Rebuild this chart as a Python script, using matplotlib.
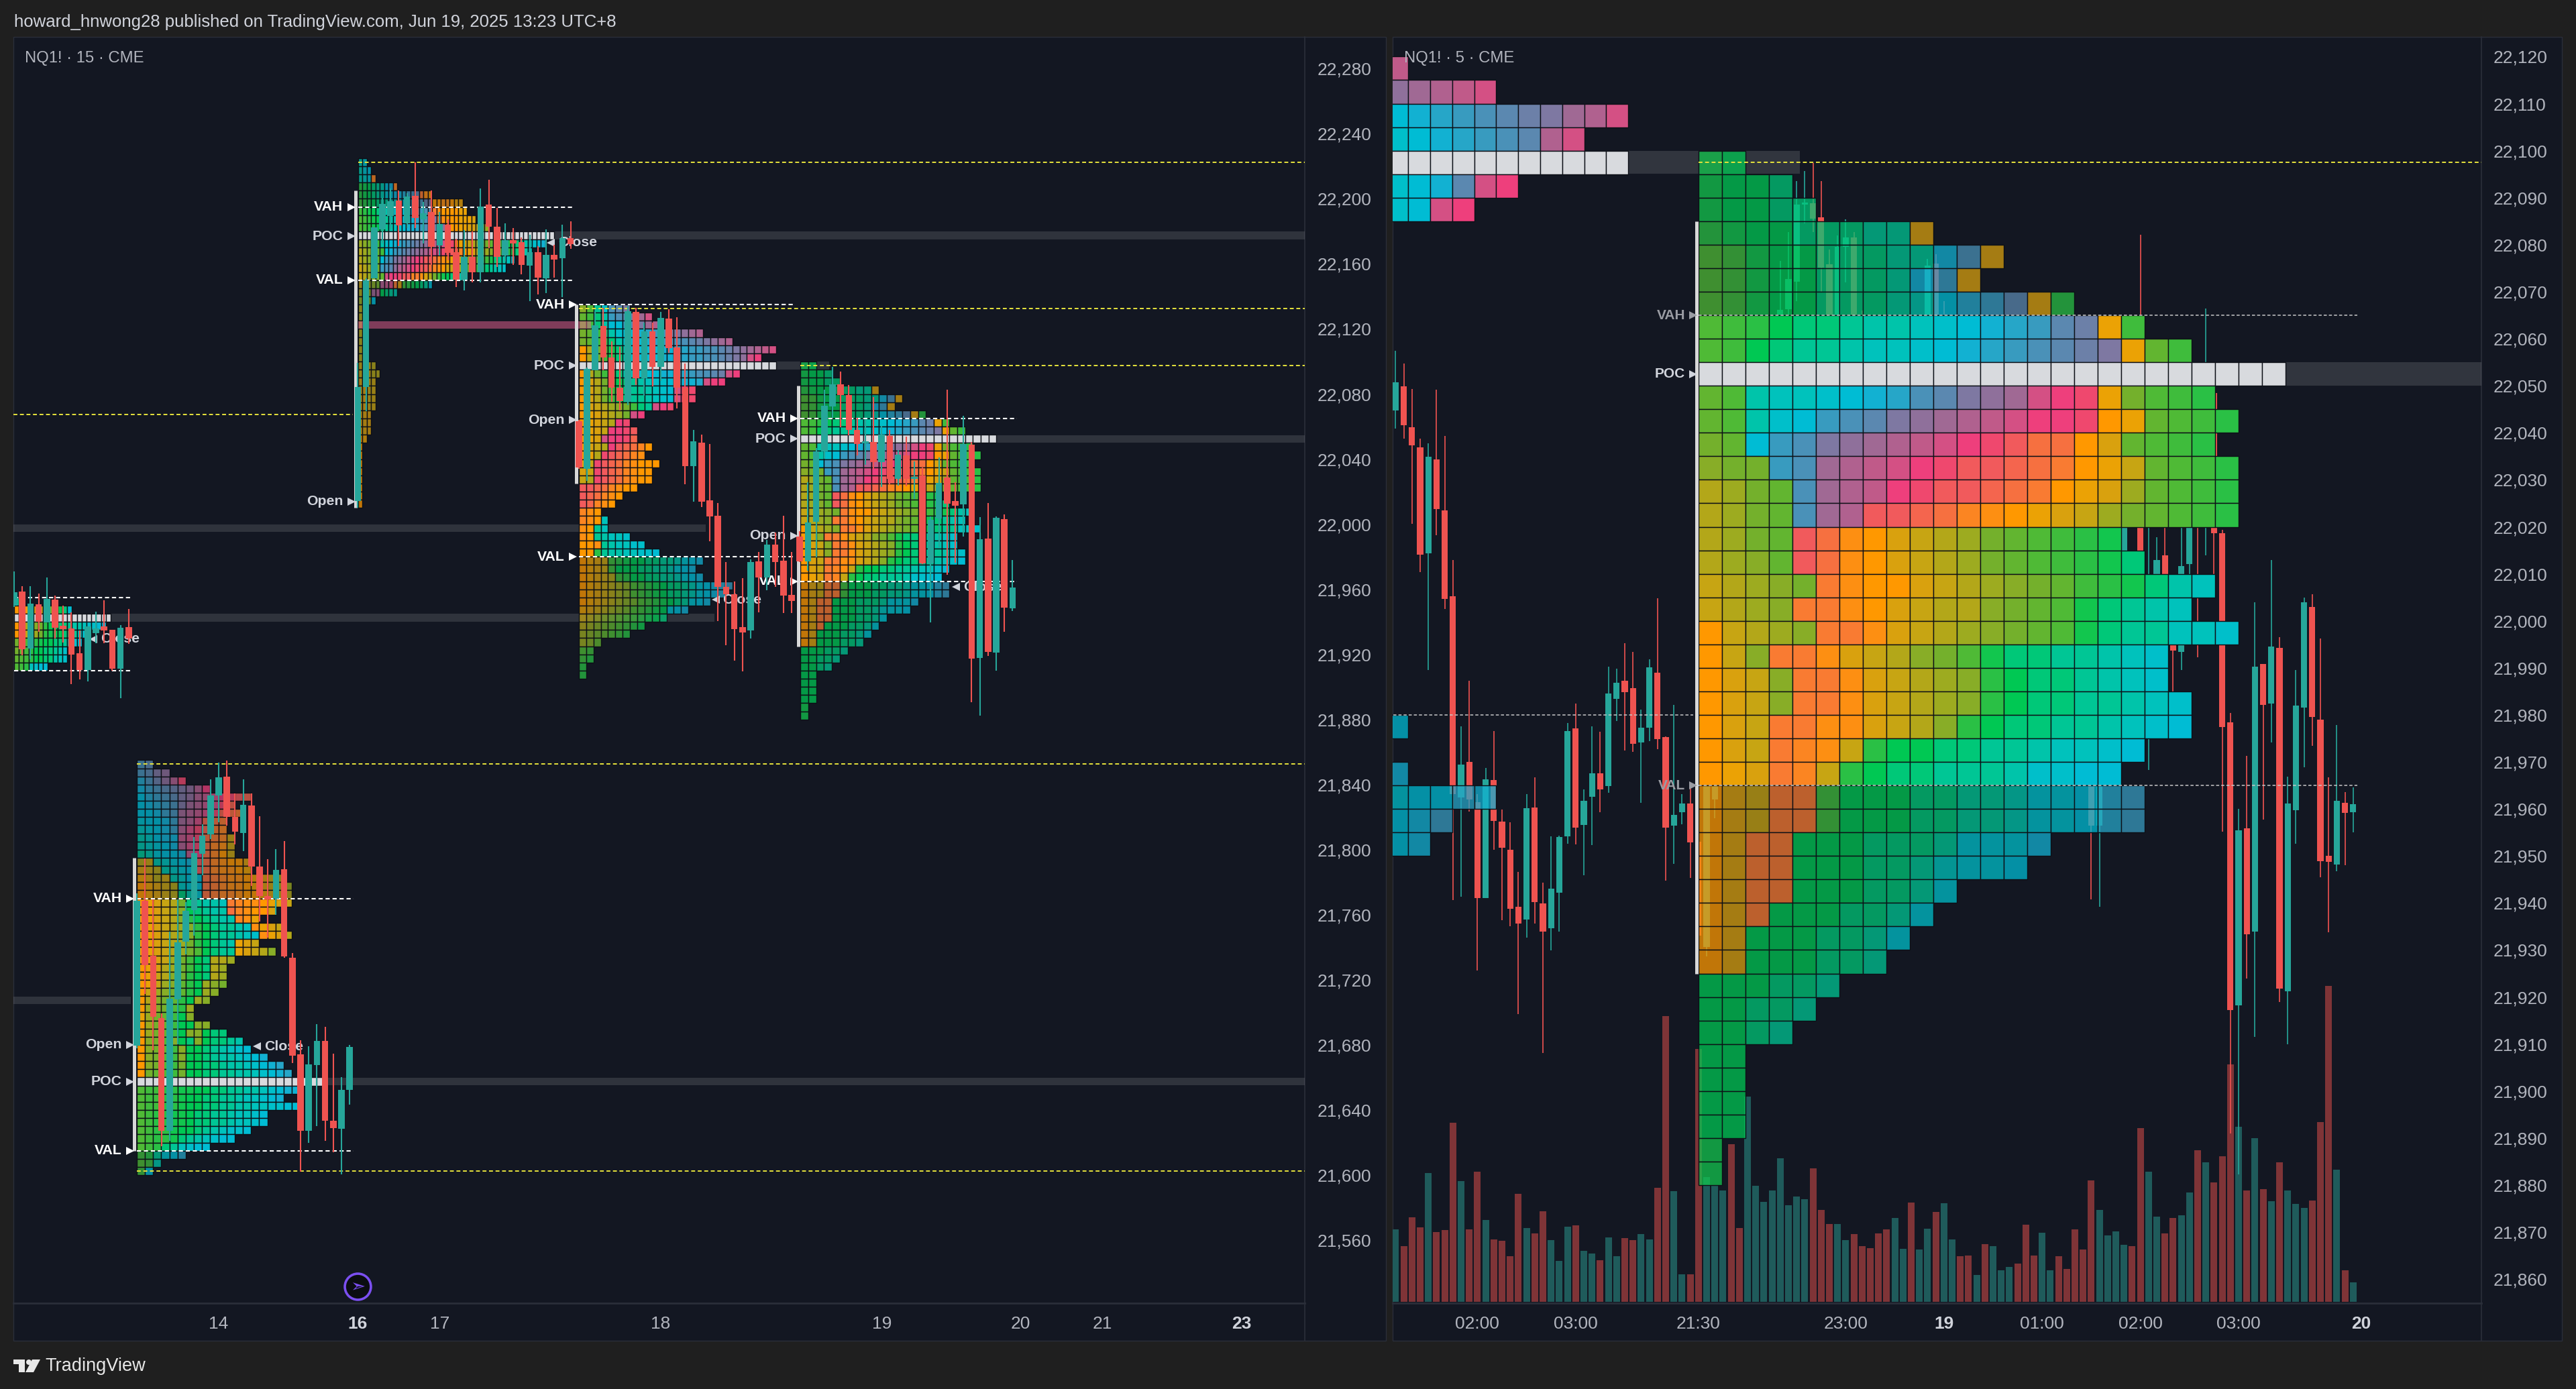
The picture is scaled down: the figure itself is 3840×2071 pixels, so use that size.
import numpy as np
import matplotlib
matplotlib.use('Agg')
import matplotlib.pyplot as plt
from matplotlib.patches import Rectangle, Circle, Polygon

plt.rcParams['font.family'] = ['Liberation Sans', 'DejaVu Sans']

W, H = 3840, 2071
BG = '#131722'
FIG = '#1f1f1f'
RED = '#ef5350'
TEAL = '#26a69a'
YELLOW = '#e6e33c'

# colour keys used in the profile rows (orange > olive > green > cyan > blue > pink > orange)
PALETTE = dict(zip(
    'ABCDEFGHIJKLMNOPQRSTUVWXYZabcdefghijklmnw',
    ['#ff9800', '#eba205', '#d9a10e', '#c7a513', '#b3a719', '#9dab20', '#88ad27', '#74b02c',
     '#62b530', '#4fba36', '#3fbc3c', '#2ac045', '#12c64e', '#00c853', '#00c878', '#00c695',
     '#00c4aa', '#00c2bc', '#00bfca', '#00bcd4', '#12b1d2', '#26a6c8', '#389bbf', '#4a91b8',
     '#5b88b0', '#6c80a8', '#7e78a2', '#8f709b', '#a06994', '#b0618f', '#c05a89', '#d45084',
     '#ee3f7c', '#ef486e', '#f15a5c', '#f4654e', '#f67040', '#f97b32', '#fb8522', '#fd8f12',
     '#d8dade']))

# ---------- 15 minute chart, candles ----------
l_open = [21949.1, 21957.6, 21922.7, 21949.8, 21938.5, 21952.7, 21936.5, 21935.1, 21919.7, 21909.3,
          21932, 21936.2, 21934.3, 21910.4, 21935.6,
          21678.6, 21767.6, 21733.8, 21695.6, 21626.3, 21706.9, 21742.5, 21761.9, 21796.3, 21808.4,
          21832.2, 21844, 21819.3, 21809.3, 21826.3, 21788.5, 21770.6, 21769, 21787.1, 21732.6,
          21673.1, 21626.3, 21666.7, 21681.6, 21632.3, 21627.6, 21651.4,
          22013.4, 22083.3, 22150.3, 22180.4, 22188.5, 22198.1, 22184.1, 22200.8, 22186.3, 22190.8,
          22170.4, 22183.1, 22166.2, 22149.2, 22163.5, 22153.7, 22195.5, 22181.9, 22164, 22173.8,
          22172.4, 22158, 22166, 22150.3, 22164.7, 22162.3, 22175,
          22062.5, 22033.2, 22093.8, 22120.7, 22101.3, 22082.9, 22074.4, 22129.7, 22088.9, 22117.6,
          22095.9, 22125.3, 22107.7, 22082.9, 22034.6, 22049.3, 22013.6, 22004.3, 21960.6, 21956.1,
          21935.7, 21933.6, 21976.1, 21966.4, 21986.4, 21976.6, 21955.4,
          21991.6, 21976.1, 22000.6, 22043.8, 22071.5, 22084.9, 22078.3, 22056.8, 22048.7, 22049.5,
          22037.3, 22053.2, 22026.7, 22041.3, 22027, 22029.1, 21975, 22002.5, 22027.8, 22013.1,
          22011.2, 22047.9, 21917, 21990.2, 21920.2, 22002.1, 21947.2]
l_high = [21970, 21960.9, 21960.9, 21956.4, 21966.3, 21955, 21948.8, 21945, 21933.7, 21936.2,
          21945.4, 21952.3, 21934.3, 21936.9, 21947,
          21772, 21793.7, 21768.5, 21698.2, 21748.6, 21768.5, 21766.8, 21806.7, 21814.5, 21842.3,
          21852.7, 21853.9, 21833.6, 21842.3, 21833.6, 21819.7, 21793.3, 21799.2, 21804.1, 21735.6,
          21681.8, 21678, 21691.8, 21690.1, 21673.6, 21659.2, 21678.8,
          22098, 22150.3, 22181.5, 22199.6, 22205.5, 22204, 22202.5, 22221.4, 22197, 22204,
          22190.8, 22186.3, 22174.6, 22179.7, 22179, 22205.5, 22210.6, 22193.3, 22183.8, 22181.2,
          22175.3, 22176.8, 22170.1, 22180, 22170.9, 22183.1, 22185.2,
          22063, 22095.1, 22130, 22131.8, 22111.4, 22108.2, 22133.4, 22131.8, 22122.8, 22122.8,
          22129.4, 22131.3, 22126.1, 22097.6, 22056.8, 22054, 22048.3, 22012, 21975.6, 21963.9,
          21965.9, 21977.3, 21981.8, 21989.2, 21994.1, 22004.3, 21981.8,
          21994.9, 22025, 22046, 22081.6, 22095.9, 22092.7, 22084.5, 22064.2, 22063.3, 22077.2,
          22059.3, 22056.8, 22044.6, 22052.7, 22037.6, 22034, 22003.8, 22040.2, 22081.6, 22025,
          22065.8, 22049.5, 22003.4, 22011.9, 22003.9, 22005, 21976.9]
l_low = [21948, 21918.6, 21915.9, 21933, 21938.5, 21928.9, 21926.2, 21900.7, 21903.5, 21902.5,
         21926, 21925.8, 21909, 21892.1, 21925.5,
         21677, 21710.4, 21675.7, 21616.7, 21620.2, 21679.2, 21734.7, 21746, 21783.3, 21805.5,
         21815.9, 21813.6, 21802.3, 21798, 21776.7, 21755, 21745.1, 21759, 21732.6, 21667.9,
         21601.1, 21618.8, 21629.2, 21620.2, 21612.9, 21599.4, 21642.4,
         22009, 22068.6, 22150.3, 22171.6, 22180.4, 22170.1, 22181.2, 22181.2, 22171.6, 22158.4,
         22164.3, 22161.3, 22144.8, 22142.5, 22147.8, 22147.8, 22168.7, 22157.2, 22160.6, 22158.4,
         22152.5, 22136.3, 22140.4, 22141, 22150.7, 22138.5, 22168.4,
         22033.2, 22025.5, 22093.5, 22093.5, 22074.4, 22069.1, 22072.3, 22084.5, 22078, 22083.7,
         22087, 22104.4, 22070.2, 22023.4, 22012.8, 22009.6, 21988.4, 21939.5, 21924.5, 21915.3,
         21908.5, 21928.9, 21944.7, 21958.5, 21960.6, 21944.3, 21944.3,
         21975.6, 21970.4, 21978.6, 22039.2, 22064.2, 22058.8, 22053.6, 22041.3, 22035.6, 22033.2,
         22021.8, 22023.4, 22022.6, 22022.3, 22014.4, 21974.5, 21938.6, 21985, 21968, 21975.3,
         21991.6, 21889.8, 21881.2, 21918, 21908.8, 21932.9, 21945.7]
l_close = [21957.4, 21922, 21950.2, 21939.2, 21953, 21935.5, 21934.6, 21919, 21909.3, 21936.2,
           21935, 21933.7, 21910.4, 21935.4, 21928.9,
           21767.6, 21728.1, 21696.2, 21626.3, 21707.3, 21742.1, 21761.6, 21796.8, 21807.6, 21832.4,
           21843.6, 21819.2, 21810.2, 21826.6, 21788.8, 21770.3, 21768.5, 21786.7, 21733.5, 21672.2,
           21626.3, 21667, 21681.3, 21632.3, 21628, 21651.4, 21677.8,
           22083.3, 22148.8, 22181.5, 22195.9, 22197.4, 22182.7, 22200.3, 22187.1, 22190, 22169.4,
           22183.4, 22165.7, 22149.2, 22163.1, 22154, 22194.4, 22181.9, 22163.5, 22173.8, 22171.6,
           22158.4, 22166, 22150.6, 22164.7, 22161.6, 22174.9, 22171.2,
           22034, 22094.3, 22121.2, 22101.6, 22082.9, 22074.8, 22129.8, 22088.9, 22117.6, 22095.9,
           22125.8, 22107.4, 22082.9, 22034.6, 22049.8, 22012.8, 22003.8, 21960.6, 21956.1, 21934.6,
           21932.6, 21975.6, 21966.4, 21986.4, 21975.8, 21955, 21951.7,
           21976.1, 22000.1, 22043.8, 22071.8, 22084.9, 22078.3, 22057.1, 22048.4, 22049.8, 22037.3,
           22053.9, 22026.7, 22041.8, 22026.7, 22028.3, 21975, 22001.9, 22024.2, 22011.8, 22010.4,
           22048.3, 21916.3, 21989.6, 21920.7, 22003, 21947.6, 21960.1]
# readings off the screenshot came out one point low against the row grid
LEFT_READ_SHIFT = 1.0

# ---------- profiles, one string per row from the top, one letter per cell ----------
p0_top = 21950
p0_rows = ['P', 'AAABCDFHLNOT', 'w' * 20, 'ADEFGHLNNOOPQQRSSTU', 'ABDEFHLMNNOOPRST', 'HIJKLMNNOOPRST',
           'HIKLNNOOPQS', 'IJKLNNOOQRS', 'JKLRSTT']
p0_va = (21910, 21955)

p2_top = 22220
p2_rows = ['QS', 'QST', 'QRSm', 'LMNOPQTUm', 'LMNOPQSTUUVWXYlnA', 'KLMNOPPQRSTUVWXZaAAnnABB',
           'KLMNOPQRSTTUUVWXYlnAAAABB', 'JKLMNOPQRSTUUVWXYalnAAABBBC', 'JKLMNOPQRSTUUVWXYZabnAABBCCDEF',
           'w' * 45,
           'FGHIKQSTUVWXYZabcdefghABCDEFGHIJKLMNOPQRSTU', 'EFGHIKTUWXYZabcdefghiikmABCDEFGHJKLMOPQR',
           'EFGHITWXabcefghiikmnABCDEFGHJKMOPQRS', 'DEFGHWXYbdefghiikmnACDEFGHIKMOPQRS',
           'DEFGHIfgghiimlnCEHKMNOPQR', 'DEFGHdeflCKLMNOPT', 'EFGcdNOPQ', 'FGHT',
           'E', 'E', 'E', 'E', 'E', 'E', 'E',
           'DDDE', 'DDDEE', 'CCDD', 'CCDD', 'CCDD', 'CCDD', 'BCC', 'BCC', 'BCC', 'AB',
           'A', 'A', 'A', 'A', 'A', 'A', 'A', 'A']
p2_va = (22150, 22195)

p3_top = 22130
p3_rows = ['GJPSXYa', 'IKOQWXYacf', 'IKOQTTWYacd', 'HIKOQSTTUVWXZabcd', 'HIKMOQSTTUVWWXXYZabcd',
           'AEHKMOQSTTTUUVVWWXXYZabcdef', 'AEHKMOQSTTTUUVVWWXXYZabfg', 'w' * 27,
           'AEHKMOQRSTTUUVVWXXYZfg', 'ACEHLNOPQRSSTTUUVfgg', 'ACEHKNOPPQRSTfgh', 'ACEHKNOPPQRSTfgh',
           'ACDEFGHKOPfgh', 'ABCDEFHfg', 'ABCDEgh', 'ABCDgghi', 'ABCfgghj', 'ACDEgijkmA', 'ABEhijkmn',
           'BDhijkmnAAA', 'CDhijkmnAA', 'DEhijkmnAA', 'iijkmnAA', 'ijkmnA', 'ijmnA', 'mnA', 'mnAR', 'nAPR',
           'nAPQRRS', 'AAnPQRRSS', 'AALPQQRRSST',
           'ABCDKLMNNOOPPQSTU', 'ABCDKNNNOOPPQSTU', 'ABCDEKLNNOOPPQSTU', 'ABCDEFGJKLMNOOPQSTUVW',
           'ABCDEFGJKLMNOOPQSTUV', 'ABCDEFGHJKLMNOPSTU', 'BCDEFGHJKLMNSTU', 'DEFGHIJKLMNO', 'EFGHIJKLM',
           'FGHIJKL', 'FGI', 'JK', 'KL', 'L', 'L']
p3_va = (21980, 22135)

# the 18 June session: same rows on the 15 and the 5 minute chart
s_top = 22095
s_rows = ['MN', 'MNNO', 'MNNOO', 'LMNNOOOPPC', 'JKMNNOOOPPUXC', 'JKMNNOOOPUWC', 'JKMNNOOOPQTVWYCL',
          'JKLNOOPQQRSTUVWYZBK', 'JKNOPPQRRSTUVWXYZaBIK', 'w' * 25,
          'IJQRRSTUVXYabcfghBHJKL', 'IJQSTWXYabcdefgghABIJKL', 'HITWXabcdefghikkACIJKL',
          'GHHWXcdefghiijklABDIJKL', 'EFHIXcdeghiijklABCFIJKL', 'EFHIXcdiijkmnABCDFHIJKL',
          'EFHIiknACDEFHIJKLM', 'EFGIiknACDEFHIJKLMO', 'DEFGHlnAACDEFGHIKLMOQR', 'DEFGllnACDEEGHIJMOPQR',
          'ADEFGllnCDEFGHIJMOPPRRS', 'ADGllnCDEGHJMOOPPQRS', 'ACDGllnCDEFGLNOOPQRS',
          'ACDGllnCDEFGLNOOPPQRS', 'ACDllnnCDEGLNOOPPQRST', 'ACDlmnDLNNOOPPQRRST', 'ABClmDLNOOPPPQSSTT',
          'ACDllKNNNOOPPQSSTVW', 'ACDllKNNNOOPPQSSTVW', 'ACllNNNOOOPSSSU', 'ACllNNNOOPRSST', 'ACllNNNOOPS',
          'AClNNNOOPS', 'ACNNNOOPS', 'ACNNNOOP', 'NNNOOP', 'NNOOP', 'NNOP', 'NN', 'NN', 'NN', 'NN', 'M', 'M']
s_va = (21965, 22065)

p5_top = 21850
p5_rows = ['XY', 'XYab', 'VXZbdh', 'UWXYZabdg', 'TVWXYabdefghij', 'TUVWXacdefhj', 'TTUWXcdefhjkl', 'STTUWcdfjkl',
           'RSTUWdfhjlm', 'QRTUUefhklmD', 'QRSTUdfhkmnD', 'PQSTTUegkmAD', 'EDQRSTUikmnAAC', 'CDEQRSTikmnnAB',
           'BCEDQRTTklmnnABCDE', 'ABCDERSTklmnnABCDEF', 'ABCDEOQSklmmnAABCDE',
           'ABCDEHOPQQRlmnnABCD', 'ABCDEGNOPQQkmnAAC', 'ABCDEGLNOPQQmnB', 'ABCDEFGLNOPPQRnBCD',
           'ABCDEFGLNOPPQRSnBCE', 'ABCDEFHLNOPQBCD', 'ABCDEFHJNOPPBCDEG', 'ABCDFHKNOEEF', 'ABCEFHKNOEF',
           'ABDEGHLNOEF', 'ABDFGILNFGH', 'ADFGHILNFG', 'AEGHILNFG', 'AFGHJLF', 'BFHIKNG', 'AFHIKNNGG',
           'AFHIKNGGNOO', 'AGHJGNOGNOOPQ', 'AGHIKGNNOPQRST', 'AGHJKGNNOPQQRSTU', 'AGHJKHNNOOPQQRSTUV',
           'AHIJKHNNOOPPQQRSTUV', 'w' * 23,
           'JKKLLMMNNOOPPQQRSTUU', 'JKKLLMNNOOPPQRRSTU', 'JKKLLMNNOOPPQQRRSSTT', 'JKLLMMNOOPPQRRST',
           'JKLLMMNOOPPQRRST', 'JKLLMNNOPQRSST', 'JKLLMOPQRSTT', 'JKLOPRSTT',
           'KLPSTV', 'JKQ', 'KT']
p5_va = (21615, 21770)

# right chart: what is left of the 17 June profile
prev_up_lows = [22115, 22110, 22105, 22100, 22095, 22090, 22085]
prev_up_rows = ['e', 'bcdef', 'TUVWXYZacdf', 'STUVWXYdf', 'w' * 11, 'STUYfg', 'STfg']
prev_dn_lows = [21975, 21965, 21960, 21955, 21950]
prev_dn_rows = ['T', 'U', 'STTVU', 'TUW', 'TU']
prev_va = (21980, 22135)

# ---------- levels on the 15 minute chart (price, from bar, to bar; None = chart edge) ----------
l_value_lines = [(21955, 0, 14.4), (21910, 0, 14.4), (22195, 42.03, 68.4), (22150, 42.03, 68.4),
                 (22135, 69, 95.4), (21980, 69, 95.4), (22065, 96.1, 122.5), (21965, 96.1, 122.5),
                 (21770, 15, 41.5), (21615, 15, 41.5)]
l_naked_poc = [(22222.5, 42.03, None), (22132.5, 69, None), (22097.5, 96.1, None), (21852.5, 15, None),
               (21602.5, 15, None), (22067.5, None, 41.4)]
l_poc_bands = [(22175, 65.97, None), (22095, 93.1, 99.6), (22050, 120, None), (21995, None, 84.5),
               (21940, 11.8, 85.6), (21705, None, 14.3), (21655, 37.9, None)]
l_ib_bars = [(41.7, 22010, 22205), (68.7, 22025, 22135), (95.8, 21925, 22085), (14.7, 21615, 21795)]
l_labels = [('VAH', 40.2, 22195, '#ffffff'), ('POC', 40.2, 22177, '#d1d4dc'), ('VAL', 40.2, 22150, '#ffffff'),
            ('Open', 40.2, 22014, '#d1d4dc'),
            ('VAH', 67.3, 22135, '#ffffff'), ('POC', 67.3, 22097.5, '#d1d4dc'), ('Open', 67.3, 22064, '#d1d4dc'),
            ('VAL', 67.3, 21980, '#ffffff'),
            ('VAH', 94.3, 22065, '#ffffff'), ('POC', 94.3, 22052.5, '#d1d4dc'), ('Open', 94.3, 21993, '#d1d4dc'),
            ('VAL', 94.3, 21965, '#ffffff'),
            ('VAH', 13.2, 21770, '#ffffff'), ('Open', 13.2, 21680, '#d1d4dc'), ('POC', 13.2, 21657.5, '#d1d4dc'),
            ('VAL', 13.2, 21615, '#ffffff')]
l_closes = [(10.6, 21929.5), (66.5, 22173), (86.6, 21953.5), (116, 21961.5), (30.6, 21679)]
l_ticks = [22280 - 40 * n for n in range(19)]
l_xticks = [25, 42, 52, 79, 106, 123, 133, 150]
l_xlabels = ['14', '16', '17', '18', '19', '20', '21', '23']
l_xbold = ['16', '23']

# ---------- 5 minute chart, candles (the ones behind the profile are rough) ----------
r_open = [22044.8, 22049.9, 22041.2, 22036.9, 22014.4, 22034.3, 22023.5, 22005.2, 21962.4, 21970,
          21961.5, 21941, 21966.1, 21957.3, 21951.3, 21939.2, 21936.5, 21960.3, 21939.9, 21934.6,
          21942.2, 21954.2, 21977.1, 21956.6, 21962.6, 21967.6, 21964.9, 21983.4, 21987.2, 21985.7,
          21974.1, 21977.3, 21989, 21975.3, 21956.4, 21959.3, 21961.1,
          21953, 21930.6, 21962, 21990, 22000, 21992, 22012, 22030, 22020, 22040,
          22056, 22066.3, 22072.2, 22088.5, 22088.8, 22085.9, 22075.9, 22064, 22079.5, 22081.5,
          22064, 22055, 22060, 22045, 22055, 22040, 22050, 22058, 22062, 22076,
          22064, 22050, 22058, 22040, 22052, 22045, 22032, 22042, 22030, 22038, 22040, 22026,
          22012, 22022, 22010, 22018, 22004, 22012, 21990, 21956.4, 22010, 22030, 22014.7, 22035,
          22023, 21977, 22009.8, 22014, 22000, 21993.4, 22012.1, 22009, 22020,
          22048.4, 22018.6, 21978.4, 21918.3, 21955.9, 21933.9, 21990.9, 21982.4, 21994.3, 21921.2,
          21959.7, 21981.6, 22002.9, 21979, 21950, 21948.2, 21961.3, 21959.3]
r_high = [22057.4, 22054.7, 22049.3, 22038.7, 22037.7, 22049.2, 22039.4, 22013, 21977.5, 21987.2,
          21963.1, 21968.7, 21976.5, 21959.9, 21957.1, 21946.6, 21963.2, 21966.7, 21944.3, 21954.2,
          21954.3, 21978.3, 21982.4, 21964.1, 21977.5, 21976.4, 21990.3, 21989.9, 21995.2, 21993.4,
          21981.1, 21991.8, 22004.8, 21975.4, 21982.2, 21963.1, 21964.4,
          21958, 21990, 21992, 22005, 22010, 22015, 22035, 22038, 22045, 22064,
          22076.5, 22082.7, 22093.6, 22095.7, 22097.4, 22093.6, 22079, 22082, 22085.4, 22082.7,
          22066, 22062, 22063, 22060, 22058, 22055, 22060, 22064, 22077, 22078,
          22068, 22060, 22060, 22055, 22055, 22048, 22045, 22045, 22042, 22045, 22042, 22030,
          22025, 22025, 22020, 22022, 22015, 22010, 21995, 21995, 22035, 22040, 22030, 22040,
          22082.1, 22021, 22017.8, 22025, 22010, 22020, 22030, 22030, 22066.4,
          22050, 22019.4, 21980.4, 21960, 21971.3, 22004, 21990.9, 22012.9, 21996.6, 21966.8,
          21989.6, 22004.9, 22005.7, 21996.3, 21966.7, 21977.8, 21963.6, 21964.6]
r_low = [22040.9, 22038.7, 22020.6, 22010.4, 21989.6, 22018.2, 22002.5, 21940.6, 21941.3, 21959.5,
         21925.7, 21941, 21951.3, 21936.4, 21935.1, 21916.4, 21932.7, 21935.6, 21908.1, 21929.9,
         21933.9, 21952.6, 21952.5, 21945.9, 21952.3, 21959.3, 21963.4, 21978.7, 21972.5, 21972.2,
         21961.3, 21974.5, 21972.7, 21944.8, 21948.3, 21956.7, 21945.3,
         21930, 21928.6, 21958, 21985, 21985, 21990, 22008, 22015, 22018, 22035,
         22050, 22060, 22068, 22084.6, 22082.7, 22070, 22060, 22062, 22072, 22060,
         22050, 22050, 22040, 22040, 22035, 22032, 22045, 22050, 22058, 22060,
         22045, 22045, 22035, 22035, 22040, 22030, 22028, 22025, 22025, 22032, 22022, 22010,
         22008, 22005, 22005, 22000, 21998, 21985, 21940.8, 21939.2, 21995, 22005, 22014, 22021,
         22008, 21968.3, 22007, 22006, 21984.9, 21989.6, 22010, 21992.2, 22014, 22010,
         21955.2, 21891, 21882.3, 21924, 21911.5, 21957.7, 21974.2, 21918.9, 21909.9, 21952.6,
         21968.8, 21973.5, 21945.5, 21933.8, 21946.8, 21948.1, 21955]
r_close = [22050.7, 22041.6, 22037.4, 22014.1, 22034.9, 22023.8, 22004.6, 21963.1, 21969.4, 21962,
           21941.1, 21966.3, 21957.5, 21951.8, 21938.7, 21935.7, 21960.1, 21940.2, 21933.9, 21943.1,
           21954.1, 21976.5, 21956.1, 21961.8, 21967.6, 21964.1, 21984.5, 21986.9, 21984.9, 21973.8,
           21977.3, 21990.1, 21974.8, 21956.1, 21958.8, 21961.2, 21952.9,
           21933, 21989, 21985, 22000, 21992, 22012, 22030, 22020, 22040, 22060,
           22066.2, 22072.7, 22088.6, 22089, 22085.6, 22075.1, 22065, 22079.5, 22081.6, 22064.9,
           22055, 22060, 22045, 22055, 22040, 22050, 22058, 22062, 22075.6, 22064,
           22050, 22058, 22040, 22052, 22045, 22032, 22042, 22030, 22040, 22040, 22026, 22012,
           22022, 22010, 22018, 22004, 22012, 21990, 21956.4, 21985, 22030, 22010, 22025, 22025,
           22014.7, 22007, 22013, 22009.8, 21993.7, 22011.7, 22025, 22005, 22050,
           22018.6, 21977.4, 21917.2, 21955.5, 21933.4, 21990.2, 21982.2, 21994.6, 21921.8, 21961.1,
           21982, 22003.9, 21979.5, 21948.9, 21948.7, 21961.8, 21959.1, 21961]
# volume in screen units of the reference
r_volume = [253, 193, 294, 259, 449, 243, 250, 624, 420, 252, 454, 285, 217, 213, 160, 377, 257, 239, 316, 215,
            143, 261, 267, 177, 169, 144, 225, 159, 223, 215, 235, 217, 397, 995, 385, 95, 95, 882, 435, 405,
            387, 549, 258, 715, 405, 347, 389, 501, 337, 368, 358, 466, 320, 271, 270, 216, 235, 193, 186, 239,
            253, 291, 185, 346, 183, 255, 312, 343, 218, 159, 162, 93, 200, 195, 109, 122, 133, 269, 162, 241,
            109, 160, 115, 252, 183, 422, 321, 232, 245, 199, 194, 605, 453, 296, 239, 293, 301, 380, 528, 485,
            417, 507, 828, 611, 387, 569, 393, 350, 487, 389, 341, 327, 353, 627, 1101, 461, 110, 68]
r_volume_dir = ('trrrtrrrtr' 'rtrrrrtrrt' 'ttrttrttrr' 'ttrrttrrtt' 'trrttttttt' 'trrrttrrrr'
                'rttrttrttr' 'rtrtttrrrt' 'trrrrrtttt' 'rrttrrttrt' 'rrrtrtrtrt' 'ttrrrtrt')
r_ticks = [22120 - 10 * n for n in range(27)]
r_xticks = [10, 22, 37, 55, 67, 79, 91, 103, 118]
r_xlabels = ['02:00', '03:00', '21:30', '23:00', '19', '01:00', '02:00', '03:00', '20']
r_xbold = ['19', '20']


def panel_axes(fig, x0, y0, x1, y1, z):
    ax = fig.add_axes([x0 / W, 1 - y1 / H, (x1 - x0) / W, (y1 - y0) / H], zorder=z)
    ax.patch.set_visible(False)
    return ax


def draw_profile(ax, lows, rows, start, cell_w, va, z):
    for low, row in zip(lows, rows):
        if not row:
            continue
        n = len(row)
        alpha = 1.0 if (va[0] <= low < va[1]) else 0.74
        cols = [matplotlib.colors.to_rgba(PALETTE[ch], alpha) for ch in row]
        ax.barh(np.full(n, low + 2.5), np.full(n, cell_w), left=start + np.arange(n) * cell_w, height=5,
                color=cols, edgecolor='#0d1017', linewidth=1.0, zorder=z)


def top_rows(top, rows):
    return top - 5 * np.arange(len(rows))


def draw_candles(ax, o, h, l, c, width, lw, z):
    o, h, l, c = map(np.asarray, (o, h, l, c))
    x = np.arange(len(o))
    cols = np.where(c >= o, TEAL, RED)
    ax.vlines(x, l, h, colors=cols, linewidth=lw, zorder=z)
    ax.bar(x, np.maximum(np.abs(c - o), 0.5), bottom=np.minimum(o, c), width=width, color=cols, linewidth=0,
           zorder=z + 0.1)


def price_ticks(ax, ticks, pad):
    ax.yaxis.tick_right()
    ax.set_yticks(ticks)
    ax.set_yticklabels([f'{t:,}' for t in ticks], fontsize=19, color='#b2b5be')
    ax.tick_params(axis='y', length=0, pad=pad)


def time_ticks(ax, ticks, labels, bold):
    ax.set_xticks(ticks)
    ax.set_xticklabels(labels, fontsize=19, color='#b2b5be')
    ax.tick_params(axis='x', length=0, pad=14)
    for lab in ax.get_xticklabels():
        if lab.get_text() in bold:
            lab.set_fontweight('bold')
            lab.set_color('#d1d4dc')


def clean_spines(ax):
    for name, sp in ax.spines.items():
        sp.set_visible(name == 'bottom')
    ax.spines['bottom'].set_color('#2a2e39')
    ax.spines['bottom'].set_linewidth(2.0)


def tag_left(ax, text, x, price, color, tri_dx, fs=15.3, z=4):
    ax.text(x, price, text, ha='right', va='center', fontsize=fs, fontweight='bold', color=color, zorder=z)
    ax.plot([x + tri_dx], [price], marker='>', ms=8, color=color, mew=0, zorder=z)


fig = plt.figure(figsize=(W / 100, H / 100), dpi=100, facecolor=FIG)

# page furniture in screen pixels
page = fig.add_axes([0, 0, 1, 1], zorder=0)
page.set_xlim(0, W)
page.set_ylim(H, 0)
page.axis('off')
page.add_patch(Rectangle((20, 55), 2046, 1944, fc=BG, ec='#2a2e39', lw=1))
page.add_patch(Rectangle((2076, 55), 1743, 1944, fc=BG, ec='#2a2e39', lw=1))
page.plot([1945, 1945], [55, 1999], color='#2a2e39', lw=1.2)
page.plot([3699, 3699], [55, 1999], color='#2a2e39', lw=1.2)
page.text(21, 33, 'howard_hnwong28 published on TradingView.com, Jun 19, 2025 13:23 UTC+8', fontsize=18.5,
          color='#d1d4dc', va='center')
page.add_patch(Rectangle((20, 2027), 17, 7, fc='#e8e8e8'))
page.add_patch(Rectangle((28, 2027), 9, 19, fc='#e8e8e8'))
page.add_patch(Circle((43, 2031), 4, fc='#e8e8e8'))
page.add_patch(Polygon([(48, 2027), (60, 2027), (50, 2046), (38, 2046)], fc='#e8e8e8'))
page.text(67, 2037, 'TradingView', fontsize=19.5, color='#e8e8e8', va='center')

# ---------- left chart ----------
axl = panel_axes(fig, 20, 55, 1945, 1943, 2)
axl.set_xlim(-0.082, 157.7)
axl.set_ylim(21521.3, 22299.5)
clean_spines(axl)
l_start, l_end = axl.get_xlim()

for low, x0, x1 in l_poc_bands:
    x0 = l_start if x0 is None else x0
    x1 = l_end if x1 is None else x1
    axl.barh(low + 2.5, x1 - x0, left=x0, height=4.7, color='#ffffff', alpha=0.12, linewidth=0, zorder=1)

draw_profile(axl, top_rows(p0_top, p0_rows), p0_rows, 0, 0.59, p0_va, 2)
draw_profile(axl, top_rows(p2_top, p2_rows), p2_rows, 42.03, 0.532, p2_va, 2)
draw_profile(axl, top_rows(p3_top, p3_rows), p3_rows, 69, 0.893, p3_va, 2)
draw_profile(axl, top_rows(s_top, s_rows), s_rows, 96.1, 0.957, s_va, 2)
draw_profile(axl, top_rows(p5_top, p5_rows), p5_rows, 15, 0.997, p5_va, 2)

axl.barh(22122.5, 70.5 - 42.03, left=42.03, height=4.7, color='#f06496', alpha=0.49, linewidth=0, zorder=2.5)

for x, lo, hi in l_ib_bars:
    axl.vlines(x, lo, hi, color='#d8d8d8', linewidth=3.6, zorder=3)
for price, x0, x1 in l_value_lines:
    axl.plot([x0, x1], [price, price], color='#ffffff', lw=1.5, ls=(0, (3, 2)), zorder=3)
for price, x0, x1 in l_naked_poc:
    x0 = l_start if x0 is None else x0
    x1 = l_end if x1 is None else x1
    axl.plot([x0, x1], [price, price], color=YELLOW, lw=1.4, ls=(0, (3, 2)), zorder=3)
for text, x, price, col in l_labels:
    tag_left(axl, text, x, price, col, 1.0)
for x, price in l_closes:
    axl.text(x, price, 'Close', ha='left', va='center', fontsize=15.3, fontweight='bold', color='#d1d4dc', zorder=4)
    axl.plot([x - 0.9], [price], marker='<', ms=8, color='#d1d4dc', mew=0, zorder=4)

draw_candles(axl, np.array(l_open) + LEFT_READ_SHIFT, np.array(l_high) + LEFT_READ_SHIFT,
             np.array(l_low) + LEFT_READ_SHIFT, np.array(l_close) + LEFT_READ_SHIFT, 0.78, 1.5, 5)

axl.plot([42], [21531.5], marker='o', ms=28, mfc='#0b0d12', mec='#7b4ff0', mew=2.6, zorder=6)
axl.text(42, 21531, '\u27a3', color='#7b4ff0', fontsize=19, ha='center', va='center', zorder=7,
         family='DejaVu Sans')

price_ticks(axl, l_ticks, 13.5)
time_ticks(axl, l_xticks, l_xlabels, l_xbold)
axl.text(17 / 1925, 1 - 32 / 1888, 'NQ1! \u00b7 15 \u00b7 CME', transform=axl.transAxes, fontsize=17.2,
         color='#b2b5be', va='center', zorder=8)

# ---------- right chart ----------
r_xlim = (-0.36, 132.67)
axv = panel_axes(fig, 2076, 55, 3699, 1943, 1)
axv.set_xlim(r_xlim)
axv.set_ylim(-4.7, 4407)
axv.axis('off')
axv.bar(np.arange(len(r_volume)), r_volume, width=0.82, linewidth=0,
        color=['#1f5b5b' if d == 't' else '#7f3437' for d in r_volume_dir])

axr = panel_axes(fig, 2076, 55, 3699, 1943, 2)
axr.set_xlim(r_xlim)
axr.set_ylim(21854.9, 22124.2)
clean_spines(axr)

draw_candles(axr, r_open, r_high, r_low, r_close, 0.76, 1.2, 1)

# poc extensions
axr.barh(22097.5, 49.4 - 28.4, left=28.4, height=4.9, color='#ffffff', alpha=0.13, linewidth=0, zorder=2)
axr.barh(22052.5, r_xlim[1] - 108.7, left=108.7, height=4.9, color='#ffffff', alpha=0.13, linewidth=0, zorder=2)

draw_profile(axr, prev_up_lows, prev_up_rows, -1.16, 2.69, prev_va, 3)
draw_profile(axr, prev_dn_lows, prev_dn_rows, -1.16, 2.69, prev_va, 3)
draw_profile(axr, top_rows(s_top, s_rows), s_rows, 37.0, 2.868, s_va, 3)

axr.vlines(36.73, 21925, 22085, color='#d8d8d8', linewidth=3.6, zorder=4)
axr.plot([37, r_xlim[1]], [22097.5, 22097.5], color=YELLOW, lw=1.4, ls=(0, (3, 2)), zorder=4)
for price, x0, x1 in [(22065, 37, 117.5), (21965, 37, 117.5), (21980, -0.3, 36.4)]:
    axr.plot([x0, x1], [price, price], color='#c8c8c8', lw=1.1, ls=(0, (3, 2)), zorder=4)
tag_left(axr, 'VAH', 35.4, 22065, '#9a9ca3', 1.0, fs=15, z=5)
tag_left(axr, 'POC', 35.4, 22052.5, '#d1d4dc', 1.0, fs=15, z=5)
tag_left(axr, 'VAL', 35.4, 21965, '#9a9ca3', 1.0, fs=15, z=5)

price_ticks(axr, r_ticks, 13)
time_ticks(axr, r_xticks, r_xlabels, r_xbold)
axr.text(17 / 1623, 1 - 32 / 1888, 'NQ1! \u00b7 5 \u00b7 CME', transform=axr.transAxes, fontsize=17.2,
         color='#b2b5be', va='center', zorder=8)

fig.savefig('out.png', dpi=100, facecolor=FIG)
